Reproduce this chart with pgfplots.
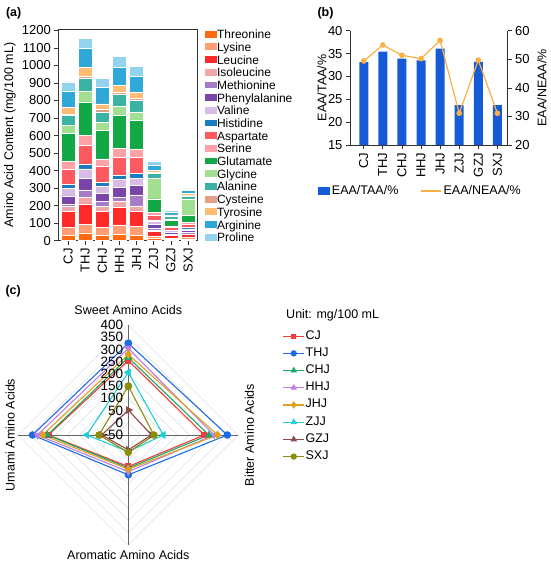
\documentclass[border=0pt]{standalone}
\usepackage{pgfplots}
\pgfplotsset{compat=1.18}
\usepackage{pgfplotstable}
\usepackage{fontspec}
\setmainfont{Liberation Sans}

\definecolor{cThr}{HTML}{FF6A10}
\definecolor{cLys}{HTML}{FF9E72}
\definecolor{cLeu}{HTML}{FF2B2B}
\definecolor{cIle}{HTML}{EFA9A9}
\definecolor{cMet}{HTML}{A67CC6}
\definecolor{cPhe}{HTML}{7A44A8}
\definecolor{cVal}{HTML}{D8BBE6}
\definecolor{cHis}{HTML}{1A7CC0}
\definecolor{cAsp}{HTML}{FF5A60}
\definecolor{cSer}{HTML}{FFA2A8}
\definecolor{cGlu}{HTML}{12A845}
\definecolor{cGly}{HTML}{A3DF90}
\definecolor{cAla}{HTML}{3BB3A2}
\definecolor{cCys}{HTML}{E5A08A}
\definecolor{cTyr}{HTML}{FFBD74}
\definecolor{cArg}{HTML}{2FA8D8}
\definecolor{cPro}{HTML}{92D3EE}
\definecolor{barblue}{HTML}{155BD5}
\definecolor{lineorange}{HTML}{F9B044}
\definecolor{axgray}{HTML}{333333}
\definecolor{gridgray}{HTML}{DDDDDD}
\definecolor{crossgray}{HTML}{666666}
\definecolor{rCJ}{HTML}{F03C3C}
\definecolor{rTHJ}{HTML}{1C6CE6}
\definecolor{rCHJ}{HTML}{19A866}
\definecolor{rHHJ}{HTML}{C07EE6}
\definecolor{rJHJ}{HTML}{E0A020}
\definecolor{rZJJ}{HTML}{1CCFD4}
\definecolor{rGZJ}{HTML}{8E4B4B}
\definecolor{rSXJ}{HTML}{8C8C0E}

\pgfplotsset{
  every axis/.append style={font=\fontsize{12.5}{15}\selectfont},
  every tick label/.append style={font=\fontsize{13}{15}\selectfont},
  /pgf/number format/assume math mode=true,
  /pgf/number format/1000 sep={},
  seg/.style={fill=#1, draw=white, line width=0.5pt,
    legend image code/.code={\fill[##1, draw=none] (0pt,-3.4pt) rectangle (12pt,3.4pt);}},
  boxb/.style={legend image code/.code={\fill[barblue] (0pt,-3.8pt) rectangle (11.7pt,3.8pt);}},
  lineb/.style={legend image code/.code={\draw[##1] (0pt,0pt) -- (20pt,0pt);}},
  radleg/.style={legend image code/.code={\draw[mark repeat=2, mark phase=2, ##1, mark options={scale=0.8}]
     plot coordinates {(0pt,0pt) (10.3pt,0pt) (20.6pt,0pt)};}},
  rad/.style={color=#1, line width=1.1pt, data cs=polar, mark options={solid, fill=#1}},
}

\pgfplotstableread{
x Thr Lys Leu Ile Met Phe Val His Asp Ser Glu Gly Ala Cys Tyr Arg Pro
0 32 46 88 29 13 48 44 22 86 44 159 47 57 8 38 94 51
1 44 49 117 38 42 67 53 27 107 57 191 61 72 14 48 110 57
2 32 46 88 29 28 48 40 23 90 43 163 47 58 13 32 96 53
3 38 52 99 34 23 59 46 25 101 51 187 52 67 13 38 105 63
4 32 48 90 28 63 54 42 28 90 44 168 48 64 12 36 92 57
5 13 10 32 6 10 24 14 9 29 13 78 119 25 7 12 32 23
6 8 5 16 3 6 10 9 4 17 6 30 10 13 4 6 15 10
7 11 8 17 2 10 9 10 7 21 8 40 95 18 5 10 15 10
}\aatable

\pgfplotstableread{
x ratio neaa
0 33.1 49.4
1 35.4 55.0
2 33.9 51.4
3 33.5 50.2
4 36.1 56.6
5 23.7 31.1
6 33.2 49.7
7 23.7 31.1
}\btable

\pgfplotstableread{
ang CJ THJ CHJ HHJ JHJ ZJJ GZJ SXJ
90 255 325 267 305 280 206 52 150
0 261 355 280 301 315 93 45 55
-90 79 113 85 100 90 18 11 21
-180 277 342 281 322 300 120 59 70
-270 255 325 267 305 280 206 52 150
}\rtable

\begin{document}
\begin{tikzpicture}
\path[use as bounding box] (0pt,0pt) rectangle (550pt,-564pt);
\node[anchor=west, font=\fontsize{12.5}{15}\selectfont\bfseries] at (2.5pt,-13pt) {(a)};
\node[anchor=west, font=\fontsize{12.5}{15}\selectfont\bfseries] at (314pt,-13pt) {(b)};
\node[anchor=west, font=\fontsize{12.5}{15}\selectfont\bfseries] at (2pt,-291pt) {(c)};

% ---------------- (a) ----------------
\begin{axis}[
  at={(58.3pt,-240.7pt)}, anchor=south west,
  scale only axis, width=139.2pt, height=211.2pt,
  ybar stacked, bar width=14pt,
  xmin=-0.57, xmax=7.55, ymin=0, ymax=1205,
  xtick={0,...,7}, xticklabels={CJ,THJ,CHJ,HHJ,JHJ,ZJJ,GZJ,SXJ},
  ytick={0,100,...,1200},
  tick align=outside, tick pos=left, major tick length=4pt,
  tick style={axgray, line width=0.7pt},
  axis line style={axgray, line width=0.8pt},
  xticklabel style={rotate=90, anchor=east},
  ylabel={Amino Acid Content (mg/100 mL)},
  ylabel style={at={(axis description cs:-0.347,0.5)}, anchor=center},
  legend style={at={(axis description cs:1.049,1.0025)}, anchor=north west,
    draw=none, fill=none, inner sep=0pt, row sep=2.69pt,
    nodes={inner sep=0.5pt, text height=9pt, text depth=0pt},
    font=\fontsize{12}{14}\selectfont},
  legend cell align=left,
]
\addplot[seg=cThr] table[x=x,y=Thr] {\aatable}; \addlegendentry{Threonine}
\addplot[seg=cLys] table[x=x,y=Lys] {\aatable}; \addlegendentry{Lysine}
\addplot[seg=cLeu] table[x=x,y=Leu] {\aatable}; \addlegendentry{Leucine}
\addplot[seg=cIle] table[x=x,y=Ile] {\aatable}; \addlegendentry{Isoleucine}
\addplot[seg=cMet] table[x=x,y=Met] {\aatable}; \addlegendentry{Methionine}
\addplot[seg=cPhe] table[x=x,y=Phe] {\aatable}; \addlegendentry{Phenylalanine}
\addplot[seg=cVal] table[x=x,y=Val] {\aatable}; \addlegendentry{Valine}
\addplot[seg=cHis] table[x=x,y=His] {\aatable}; \addlegendentry{Histidine}
\addplot[seg=cAsp] table[x=x,y=Asp] {\aatable}; \addlegendentry{Aspartate}
\addplot[seg=cSer] table[x=x,y=Ser] {\aatable}; \addlegendentry{Serine}
\addplot[seg=cGlu] table[x=x,y=Glu] {\aatable}; \addlegendentry{Glutamate}
\addplot[seg=cGly] table[x=x,y=Gly] {\aatable}; \addlegendentry{Glycine}
\addplot[seg=cAla] table[x=x,y=Ala] {\aatable}; \addlegendentry{Alanine}
\addplot[seg=cCys] table[x=x,y=Cys] {\aatable}; \addlegendentry{Cysteine}
\addplot[seg=cTyr] table[x=x,y=Tyr] {\aatable}; \addlegendentry{Tyrosine}
\addplot[seg=cArg] table[x=x,y=Arg] {\aatable}; \addlegendentry{Arginine}
\addplot[seg=cPro] table[x=x,y=Pro] {\aatable}; \addlegendentry{Proline}
\end{axis}

% ---------------- (b) ----------------
\begin{axis}[
  at={(350pt,-145pt)}, anchor=south west,
  scale only axis, width=157.5pt, height=114.3pt,
  ybar, bar width=9pt,
  xmin=-0.72, xmax=7.53, ymin=15, ymax=40,
  axis y line*=left, axis x line*=bottom,
  xtick={0,...,7}, xticklabels={CJ,THJ,CHJ,HHJ,JHJ,ZJJ,GZJ,SXJ},
  ytick={15,20,...,40},
  tick align=outside, major tick length=4pt,
  tick style={axgray, line width=0.7pt},
  axis line style={axgray, line width=0.8pt},
  xticklabel style={rotate=90, anchor=east},
  ylabel={EAA/TAA/\%},
  ylabel style={at={(axis description cs:-0.178,0.5)}, anchor=center},
  legend style={at={(axis description cs:-0.203,-0.402)}, anchor=west,
    legend columns=2, draw=none, fill=none, inner sep=0pt,
    font=\fontsize{12.5}{15}\selectfont,
    /tikz/every even column/.append style={column sep=20pt}},
]
\addplot[fill=barblue, draw=none, boxb] table[x=x,y=ratio] {\btable};
\addlegendentry{EAA/TAA/\%}
\addlegendimage{color=lineorange, line width=1.2pt, lineb}
\addlegendentry{EAA/NEAA/\%}
\end{axis}
\begin{axis}[
  at={(350pt,-145pt)}, anchor=south west,
  scale only axis, width=157.5pt, height=114.3pt,
  xmin=-0.72, xmax=7.53, ymin=20, ymax=60,
  axis y line*=right, axis x line=none,
  ytick={20,30,...,60},
  tick align=outside, major tick length=4pt,
  tick style={axgray, line width=0.7pt},
  axis line style={axgray, line width=0.8pt},
  ylabel={EAA/NEAA/\%},
  ylabel style={at={(axis description cs:1.219,0.5)}, anchor=center},
]
\addplot[color=lineorange, line width=1.2pt, mark=*, mark size=2.2pt,
  mark options={fill=lineorange}] table[x=x,y=neaa] {\btable};
\end{axis}

% ---------------- (c) ----------------
\node[anchor=west, font=\fontsize{12.5}{15}\selectfont] at (282.7pt,-315pt) {Unit: mg/100 mL};
\begin{axis}[
  at={(128.3pt,-435pt)}, anchor=center,
  scale only axis, width=220pt, height=220pt,
  xmin=-450, xmax=450, ymin=-450, ymax=450,
  hide axis, clip=false,
  legend style={at={(axis description cs:1.202,0.982)}, anchor=north west,
    draw=none, fill=none, inner sep=0pt, row sep=3.2pt,
    nodes={inner sep=1pt, text height=9pt, text depth=3pt},
    font=\fontsize{12.5}{15}\selectfont},
  legend cell align=left,
  radleg,
]
\pgfplotsinvokeforeach{50,100,...,450}{
  \draw[gridgray, line width=0.5pt] (axis cs:#1,0) -- (axis cs:0,#1) -- (axis cs:-#1,0) -- (axis cs:0,-#1) -- cycle;
}
\draw[crossgray, line width=0.9pt] (axis cs:-450,0) -- (axis cs:450,0);
\draw[crossgray, line width=0.9pt] (axis cs:0,-450) -- (axis cs:0,450);
\addplot[rad=rCJ, mark=square*, mark size=2.6pt] table[x=ang, y expr=\thisrow{CJ}+50] {\rtable}; \addlegendentry{CJ}
\addplot[rad=rTHJ, mark=*, mark size=3.2pt] table[x=ang, y expr=\thisrow{THJ}+50] {\rtable}; \addlegendentry{THJ}
\addplot[rad=rCHJ, mark=triangle*, mark size=3.4pt] table[x=ang, y expr=\thisrow{CHJ}+50] {\rtable}; \addlegendentry{CHJ}
\addplot[rad=rHHJ, mark=triangle*, mark size=3.4pt, mark options={rotate=180}] table[x=ang, y expr=\thisrow{HHJ}+50] {\rtable}; \addlegendentry{HHJ}
\addplot[rad=rJHJ, mark=diamond*, mark size=3.6pt] table[x=ang, y expr=\thisrow{JHJ}+50] {\rtable}; \addlegendentry{JHJ}
\addplot[rad=rZJJ, mark=triangle*, mark size=3.4pt, mark options={rotate=90}] table[x=ang, y expr=\thisrow{ZJJ}+50] {\rtable}; \addlegendentry{ZJJ}
\addplot[rad=rGZJ, mark=triangle*, mark size=3.4pt, mark options={rotate=-90}] table[x=ang, y expr=\thisrow{GZJ}+50] {\rtable}; \addlegendentry{GZJ}
\addplot[rad=rSXJ, mark=*, mark size=3.2pt] table[x=ang, y expr=\thisrow{SXJ}+50] {\rtable}; \addlegendentry{SXJ}
\begin{scope}[font=\fontsize{13.5}{15}\selectfont]
\node[anchor=east, inner sep=0pt] at (axis cs:-20,0) {−50};
\node[anchor=east, inner sep=0pt] at (axis cs:-20,50) {0};
\node[anchor=east, inner sep=0pt] at (axis cs:-20,100) {50};
\node[anchor=east, inner sep=0pt] at (axis cs:-20,150) {100};
\node[anchor=east, inner sep=0pt] at (axis cs:-20,200) {150};
\node[anchor=east, inner sep=0pt] at (axis cs:-20,250) {200};
\node[anchor=east, inner sep=0pt] at (axis cs:-20,300) {250};
\node[anchor=east, inner sep=0pt] at (axis cs:-20,350) {300};
\node[anchor=east, inner sep=0pt] at (axis cs:-20,400) {350};
\node[anchor=east, inner sep=0pt] at (axis cs:-20,450) {400};
\end{scope}
\node[anchor=center] at (axis cs:0,511) {Sweet Amino Acids};
\node[anchor=center] at (axis cs:0,-491) {Aromatic Amino Acids};
\node[anchor=center, rotate=90] at (axis cs:-483,0) {Umami Amino Acids};
\node[anchor=center, rotate=90] at (axis cs:495,0) {Bitter Amino Acids};
\end{axis}
\end{tikzpicture}
\end{document}
